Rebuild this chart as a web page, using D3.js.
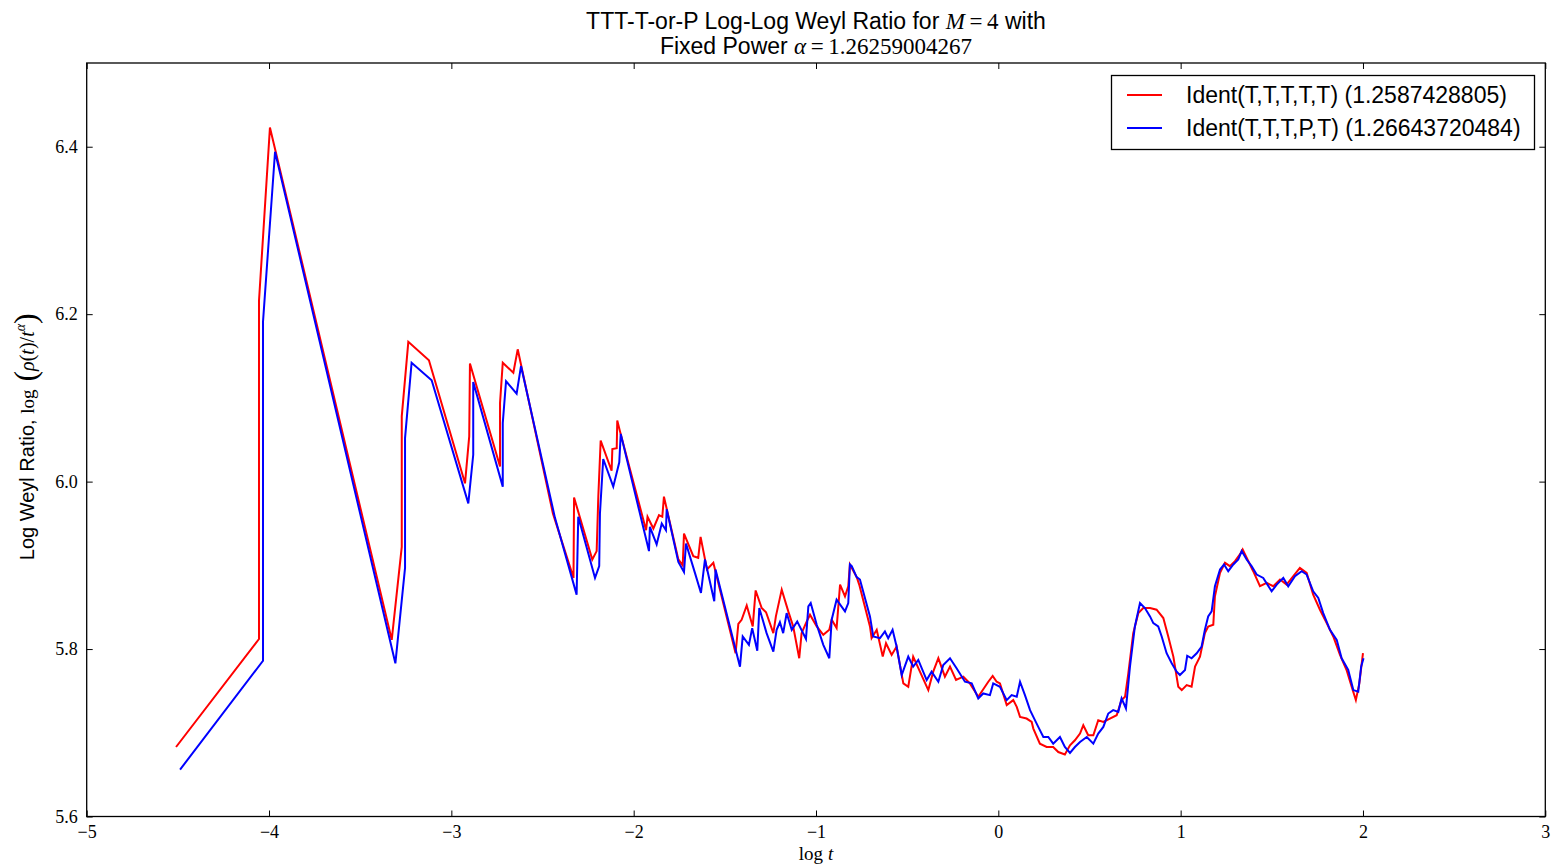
<!DOCTYPE html>
<html><head><meta charset="utf-8">
<script src="https://cdn.jsdelivr.net/npm/d3@7"></script>
<style>
html,body{margin:0;padding:0;background:#fff;}
svg{display:block;}
</style></head>
<body>
<svg id="chart" width="1554" height="867"></svg>
<script>
// ---- data ----
const xTicks = [-5, -4, -3, -2, -1, 0, 1, 2, 3];
const yTicks = [5.6, 5.8, 6.0, 6.2, 6.4];
const seriesNames = ["Ident(T,T,T,T,T) (1.2587428805)", "Ident(T,T,T,P,T) (1.26643720484)"];
const seriesColors = ["#ff0000", "#0000ff"];

const redLogT = [-4.510,-4.055,-4.055,-3.995,-3.327,-3.272,-3.272,-3.236,-3.123,-2.925,-2.902,-2.898,-2.733,-2.733,-2.718,-2.660,-2.636,-2.443,-2.330,-2.327,
-2.227,-2.203,-2.194,-2.181,-2.121,-2.117,-2.093,-2.090,-2.075,-1.932,-1.924,-1.892,-1.861,-1.843,-1.834,-1.755,-1.731,-1.724,-1.673,-1.646,
-1.633,-1.598,-1.563,-1.441,-1.426,-1.408,-1.380,-1.347,-1.331,-1.298,-1.274,-1.234,-1.220,-1.188,-1.152,-1.125,-1.092,-1.079,-1.055,-1.033,
-0.996,-0.960,-0.927,-0.914,-0.887,-0.868,-0.841,-0.823,-0.814,-0.777,-0.763,-0.704,-0.695,-0.667,-0.634,-0.616,-0.585,-0.558,-0.521,-0.494,
-0.467,-0.430,-0.384,-0.357,-0.329,-0.293,-0.265,-0.232,-0.192,-0.156,-0.110,-0.055,-0.031,-0.009,0.009,0.046,0.082,0.101,0.119,0.155,
0.183,0.192,0.228,0.265,0.301,0.329,0.365,0.393,0.420,0.448,0.466,0.493,0.521,0.548,0.576,0.612,0.649,0.676,0.695,0.713,
0.740,0.768,0.795,0.832,0.868,0.905,0.932,0.960,0.987,1.006,1.033,1.060,1.079,1.106,1.133,1.151,1.179,1.188,1.216,1.243,
1.270,1.298,1.325,1.340,1.362,1.398,1.435,1.472,1.508,1.545,1.581,1.618,1.654,1.691,1.727,1.764,1.801,1.837,1.874,1.910,
1.938,1.961,1.980,2.000];
const redRatio = [5.683,5.812,6.216,6.423,5.811,5.922,6.078,6.167,6.145,5.998,6.054,6.141,6.018,6.094,6.142,6.130,6.158,5.962,5.885,5.981,
5.907,5.917,5.982,6.049,6.013,6.039,6.040,6.073,6.060,5.942,5.958,5.944,5.960,5.958,5.982,5.907,5.900,5.938,5.911,5.909,
5.934,5.895,5.903,5.795,5.830,5.835,5.852,5.827,5.870,5.849,5.844,5.819,5.839,5.871,5.845,5.827,5.789,5.819,5.831,5.841,
5.827,5.817,5.823,5.835,5.825,5.877,5.863,5.875,5.901,5.886,5.877,5.827,5.813,5.823,5.791,5.807,5.793,5.803,5.759,5.755,
5.791,5.773,5.751,5.773,5.789,5.767,5.779,5.763,5.767,5.759,5.743,5.761,5.768,5.761,5.759,5.733,5.739,5.731,5.719,5.717,
5.713,5.705,5.687,5.683,5.683,5.677,5.674,5.685,5.691,5.699,5.709,5.697,5.697,5.715,5.713,5.717,5.721,5.739,5.743,5.771,
5.819,5.843,5.849,5.849,5.847,5.837,5.815,5.791,5.755,5.751,5.757,5.755,5.779,5.791,5.819,5.827,5.829,5.863,5.891,5.903,
5.899,5.905,5.913,5.919,5.909,5.893,5.875,5.879,5.875,5.883,5.877,5.887,5.897,5.891,5.865,5.847,5.831,5.815,5.793,5.775,
5.755,5.739,5.759,5.795];

const blueLogT = [-4.488,-4.033,-4.033,-3.967,-3.307,-3.254,-3.254,-3.218,-3.108,-2.907,-2.880,-2.880,-2.718,-2.718,-2.700,-2.642,-2.618,-2.432,-2.313,-2.304,
-2.212,-2.189,-2.185,-2.167,-2.112,-2.079,-2.071,-1.916,-1.911,-1.874,-1.846,-1.823,-1.819,-1.755,-1.724,-1.713,-1.664,-1.631,-1.609,-1.558,
-1.551,-1.417,-1.402,-1.368,-1.350,-1.322,-1.311,-1.271,-1.234,-1.216,-1.198,-1.180,-1.161,-1.133,-1.103,-1.055,-1.042,-1.029,-0.996,-0.960,
-0.927,-0.914,-0.887,-0.841,-0.823,-0.814,-0.804,-0.777,-0.759,-0.704,-0.686,-0.649,-0.622,-0.604,-0.580,-0.558,-0.530,-0.494,-0.467,-0.439,
-0.393,-0.366,-0.329,-0.302,-0.265,-0.229,-0.183,-0.146,-0.110,-0.083,-0.046,-0.028,0.009,0.046,0.073,0.101,0.119,0.146,0.174,0.192,
0.219,0.247,0.274,0.301,0.338,0.365,0.393,0.420,0.448,0.485,0.521,0.548,0.576,0.603,0.630,0.658,0.676,0.700,0.722,0.749,
0.777,0.804,0.832,0.850,0.877,0.896,0.923,0.951,0.978,0.996,1.024,1.036,1.060,1.088,1.115,1.133,1.151,1.170,1.188,1.216,
1.238,1.261,1.289,1.316,1.335,1.362,1.389,1.417,1.453,1.499,1.527,1.563,1.590,1.627,1.664,1.691,1.727,1.755,1.782,1.819,
1.856,1.883,1.919,1.947,1.974,1.990,2.003];
const blueRatio = [5.656,5.786,6.191,6.394,5.783,5.897,6.052,6.142,6.121,5.974,6.032,6.119,5.994,6.070,6.120,6.105,6.138,5.957,5.865,5.958,
5.885,5.899,5.962,6.027,5.994,6.023,6.057,5.917,5.946,5.925,5.950,5.942,5.967,5.904,5.892,5.926,5.891,5.867,5.907,5.857,
5.895,5.779,5.815,5.805,5.825,5.798,5.849,5.819,5.797,5.823,5.832,5.819,5.843,5.823,5.833,5.812,5.851,5.855,5.829,5.805,
5.789,5.835,5.859,5.845,5.855,5.901,5.899,5.886,5.883,5.839,5.815,5.813,5.821,5.813,5.823,5.803,5.769,5.791,5.779,5.787,
5.763,5.773,5.761,5.781,5.789,5.777,5.761,5.759,5.741,5.747,5.745,5.759,5.755,5.739,5.745,5.743,5.761,5.745,5.727,5.719,
5.707,5.695,5.695,5.687,5.695,5.683,5.676,5.683,5.689,5.695,5.687,5.699,5.707,5.723,5.727,5.725,5.741,5.729,5.779,5.827,
5.855,5.849,5.839,5.831,5.827,5.815,5.795,5.783,5.773,5.769,5.775,5.792,5.789,5.795,5.803,5.823,5.839,5.845,5.875,5.895,
5.901,5.893,5.901,5.907,5.917,5.907,5.899,5.889,5.885,5.869,5.877,5.885,5.875,5.887,5.893,5.889,5.869,5.861,5.843,5.823,
5.811,5.789,5.775,5.751,5.749,5.779,5.789];

// ---- layout ----
const svg = d3.select("#chart");
const L = 86.7, R = 1545.3, T = 63.0, B = 816.5;
const x = d3.scaleLinear().domain([-5, 3]).range([L, R]);
const y = d3.scaleLinear().domain([5.6, 6.5]).range([B, T]);
const serif = "'Liberation Serif', 'DejaVu Serif', serif";
const sans = "'Liberation Sans', Arial, sans-serif";

const plot = svg.append("g");
plot.append("defs").append("clipPath").attr("id","clip")
  .append("rect").attr("x", L).attr("y", T).attr("width", R - L).attr("height", B - T);

const line = d3.line().x(d => x(d[0])).y(d => y(d[1]));
const series = [
  d3.zip(redLogT, redRatio),
  d3.zip(blueLogT, blueRatio)
];
series.forEach((s, i) => {
  plot.append("path").attr("d", line(s)).attr("fill", "none")
    .attr("stroke", seriesColors[i]).attr("stroke-width", 2)
    .attr("stroke-linejoin", "miter").attr("clip-path", "url(#clip)");
});

// frame
plot.append("rect").attr("x", L).attr("y", T).attr("width", R - L).attr("height", B - T)
  .attr("fill", "none").attr("stroke", "#000").attr("stroke-width", 1.3);

const fmtX = d => (d < 0 ? "\u2212" + Math.abs(d) : "" + d);
const fmtY = d3.format(".1f");

// axes using d3 axis generators, ticks pointing inward
const tickLen = 6;
const axB = plot.append("g").attr("transform", `translate(0,${B})`)
  .call(d3.axisBottom(x).tickValues(xTicks).tickFormat(fmtX).tickSize(-tickLen).tickPadding(9));
const axT = plot.append("g").attr("transform", `translate(0,${T})`)
  .call(d3.axisTop(x).tickValues(xTicks).tickFormat("").tickSize(-tickLen));
const axL = plot.append("g").attr("transform", `translate(${L},0)`)
  .call(d3.axisLeft(y).tickValues(yTicks).tickFormat(fmtY).tickSize(-tickLen).tickPadding(9));
const axR = plot.append("g").attr("transform", `translate(${R},0)`)
  .call(d3.axisRight(y).tickValues(yTicks).tickFormat("").tickSize(-tickLen));
[axB, axT, axL, axR].forEach(a => {
  a.select(".domain").remove();
  a.selectAll(".tick line").attr("stroke", "#000").attr("stroke-width", 1);
  a.selectAll("text").attr("font-family", serif).attr("font-size", 18).attr("fill", "#000");
});

// title
const title = svg.append("text").attr("x", 816).attr("y", 29).attr("text-anchor", "middle")
  .attr("font-family", sans).attr("font-size", 23).attr("fill", "#000");
title.append("tspan").text("TTT-T-or-P Log-Log Weyl Ratio for ");
title.append("tspan").attr("font-family", serif).attr("font-style", "italic").text("M");
title.append("tspan").attr("font-family", serif).text("\u2009=\u20094");
title.append("tspan").text(" with");
const title2 = svg.append("text").attr("x", 816).attr("y", 54).attr("text-anchor", "middle")
  .attr("font-family", sans).attr("font-size", 23).attr("fill", "#000");
title2.append("tspan").text("Fixed Power ");
title2.append("tspan").attr("font-family", serif).attr("font-style", "italic").text("\u03B1");
title2.append("tspan").attr("font-family", serif).text("\u2009=\u20091.26259004267");

// x label
const xl = svg.append("text").attr("x", x(-1)).attr("y", 860).attr("text-anchor", "middle")
  .attr("font-family", serif).attr("font-size", 19).attr("fill", "#000");
xl.append("tspan").text("log ");
xl.append("tspan").attr("font-style", "italic").text("t");

// y label
const yl = svg.append("text").attr("transform", `translate(34,${(T + B) / 2 - 3}) rotate(-90)`)
  .attr("text-anchor", "middle").attr("font-family", sans).attr("font-size", 20).attr("fill", "#000");
yl.append("tspan").text("Log Weyl Ratio, ");
yl.append("tspan").attr("font-family", serif).attr("font-size", 19).text("log");
yl.append("tspan").attr("font-family", serif).attr("font-size", 32).attr("dy", 2).text(" (");
yl.append("tspan").attr("font-family", serif).attr("font-style", "italic").attr("font-size", 20).attr("dy", -2).text("\u03C1");
yl.append("tspan").attr("font-family", serif).attr("font-size", 20).text("(");
yl.append("tspan").attr("font-family", serif).attr("font-style", "italic").attr("font-size", 20).text("t");
yl.append("tspan").attr("font-family", serif).attr("font-size", 20).text(")/");
yl.append("tspan").attr("font-family", serif).attr("font-style", "italic").attr("font-size", 20).text("t");
yl.append("tspan").attr("font-family", serif).attr("font-style", "italic").attr("font-size", 14).attr("dy", -9).text("\u03B1");
yl.append("tspan").attr("font-family", serif).attr("font-size", 32).attr("dy", 11).text(")");

// legend
const lg = svg.append("g");
lg.append("rect").attr("x", 1111.5).attr("y", 75.5).attr("width", 423).attr("height", 74)
  .attr("fill", "#fff").attr("stroke", "#000").attr("stroke-width", 1.3);
seriesNames.forEach((n, i) => {
  const yy = 95 + i * 33;
  lg.append("line").attr("x1", 1127).attr("x2", 1162).attr("y1", yy).attr("y2", yy)
    .attr("stroke", seriesColors[i]).attr("stroke-width", 2);
  lg.append("text").attr("x", 1186).attr("y", yy + 8).attr("font-family", sans)
    .attr("font-size", 23).attr("fill", "#000").text(n);
});
</script>
</body></html>
